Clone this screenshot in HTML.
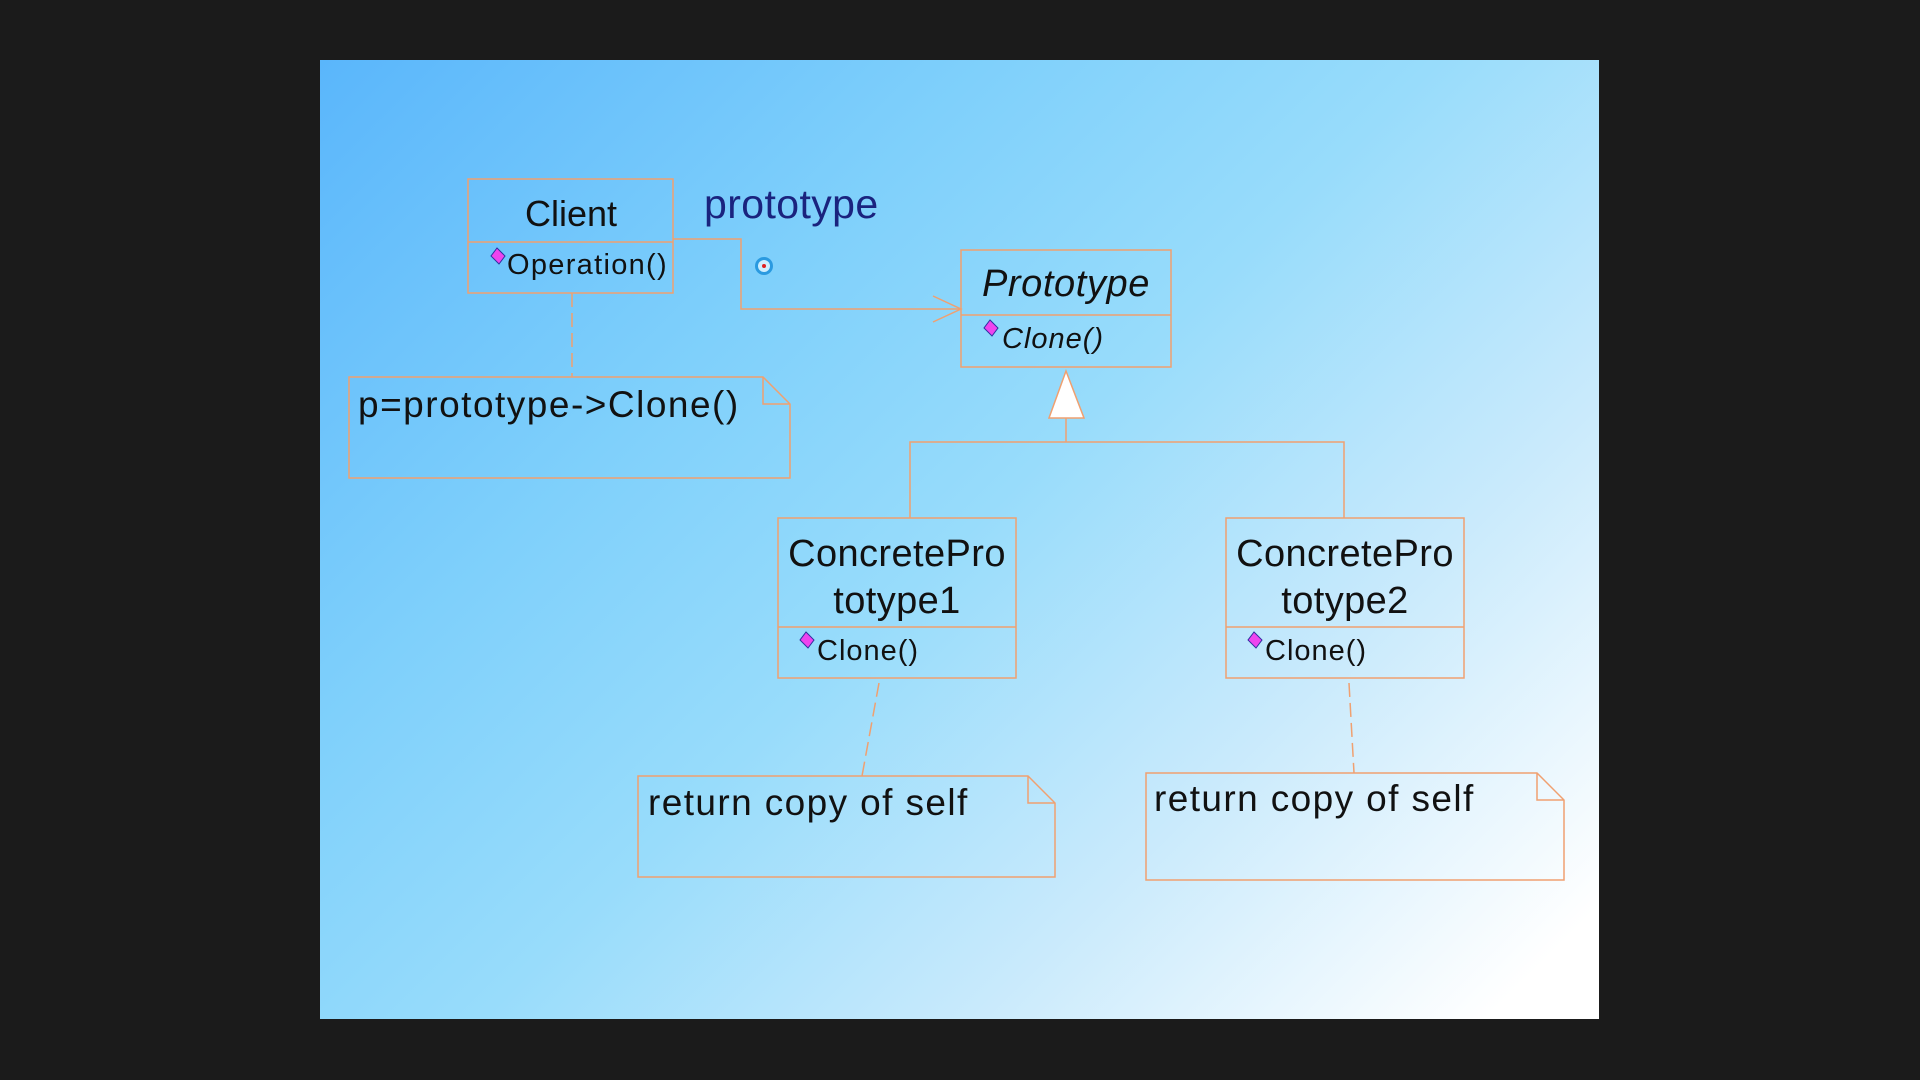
<!DOCTYPE html>
<html><head><meta charset="utf-8"><style>
html,body{margin:0;padding:0;background:#1b1b1b;width:1920px;height:1080px;overflow:hidden}
.slide{position:absolute;left:320px;top:60px;width:1279px;height:959px;background:linear-gradient(135deg,#5ab6fb 0%,#7fd0fb 30%,#98dcfb 50%,#c9eafc 72%,#ffffff 95%)}
svg{position:absolute;left:0;top:0}
text{font-family:"Liberation Sans",sans-serif;fill:#111}
</style></head><body>
<div class="slide"></div>
<svg width="1920" height="1080" viewBox="0 0 1920 1080">
<g fill="none" stroke="#f0a070" stroke-width="1.5">
<rect x="468" y="179" width="205" height="114"/><line x1="468" y1="242" x2="673" y2="242"/>
<polyline points="673,239 741,239 741,309 961,309"/>
<polyline points="933,296 961,309 933,322"/>
<rect x="961" y="250" width="210" height="117"/><line x1="961" y1="315" x2="1171" y2="315"/>
<line x1="1066" y1="418" x2="1066" y2="442"/>
<polyline points="910,518 910,442 1344,442 1344,518"/>
<rect x="778" y="518" width="238" height="160"/><line x1="778" y1="627" x2="1016" y2="627"/>
<rect x="1226" y="518" width="238" height="160"/><line x1="1226" y1="627" x2="1464" y2="627"/>
<path d="M349,377 H763 L790,404 V478 H349 Z M763,377 V404 H790"/>
<path d="M638,776 H1028 L1055,803 V877 H638 Z M1028,776 V803 H1055"/>
<path d="M1146,773 H1537 L1564,800 V880 H1146 Z M1537,773 V800 H1564"/>
<line x1="572" y1="293" x2="572" y2="377" stroke-dasharray="14,6"/>
<line x1="879" y1="683" x2="862" y2="776" stroke-dasharray="14,6"/>
<line x1="1349" y1="683" x2="1354" y2="773" stroke-dasharray="14,6"/>
</g>
<polygon points="1066,371 1049,418 1084,418" fill="#fff" stroke="#f0a070" stroke-width="1.5"/>
<circle cx="764" cy="266" r="9" fill="#2a9ae0"/><circle cx="764" cy="266" r="6" fill="#cdeeff"/><circle cx="764" cy="266" r="2" fill="#e02020"/>
<g fill="#ee44ee" stroke="#3030a0" stroke-width="1">
<polygon points="497,248 505,256 499,264 491,256"/>
<polygon points="990,320 998,328 992,336 984,328"/>
<polygon points="806,632 814,640 808,648 800,640"/>
<polygon points="1254,632 1262,640 1256,648 1248,640"/>
</g>
<text x="571" y="226" font-size="36" text-anchor="middle">Client</text>
<text x="507" y="274" font-size="29" letter-spacing="1.3">Operation()</text>
<text x="704" y="218" font-size="41" style="fill:#1a237e" letter-spacing="0.4">prototype</text>
<text x="1066" y="296" font-size="38" font-style="italic" text-anchor="middle" letter-spacing="0.6">Prototype</text>
<text x="1002" y="348" font-size="29" font-style="italic" letter-spacing="1">Clone()</text>
<text x="897" y="566" font-size="38" text-anchor="middle" letter-spacing="0.4">ConcretePro</text>
<text x="897" y="613" font-size="38" text-anchor="middle" letter-spacing="0.4">totype1</text>
<text x="817" y="660" font-size="29" letter-spacing="1">Clone()</text>
<text x="1345" y="566" font-size="38" text-anchor="middle" letter-spacing="0.4">ConcretePro</text>
<text x="1345" y="613" font-size="38" text-anchor="middle" letter-spacing="0.4">totype2</text>
<text x="1265" y="660" font-size="29" letter-spacing="1">Clone()</text>
<text x="358" y="417" font-size="37" letter-spacing="1.5">p=prototype-&gt;Clone()</text>
<text x="648" y="815" font-size="37" letter-spacing="1.4">return copy of self</text>
<text x="1154" y="811" font-size="37" letter-spacing="1.4">return copy of self</text>
</svg>
</body></html>
